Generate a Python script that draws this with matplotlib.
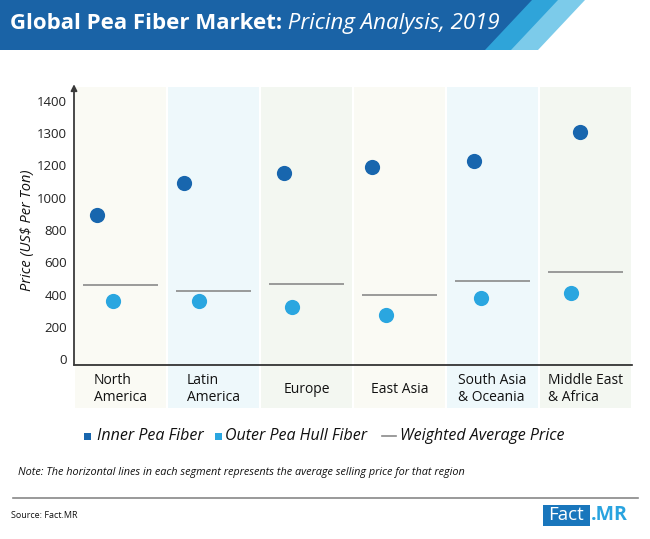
import matplotlib
matplotlib.use("Agg")
import matplotlib.pyplot as plt
import numpy as np
from matplotlib.patches import Polygon, Rectangle
from matplotlib.lines import Line2D

plt.rcParams["font.family"] = ["Open Sans", "DejaVu Sans"]

regions = ["North\nAmerica", "Latin\nAmerica", "Europe", "East Asia",
           "South Asia\n& Oceania", "Middle East\n& Africa"]
inner = [892, 1094, 1152, 1192, 1214, 1305]
outer = [361, 361, 324, 274, 378, 408]
avg_price = [462, 421, 464, 398, 487, 539]
yticks = [0, 200, 400, 600, 800, 1000, 1200, 1300, 1400]

# small horizontal shifts of the dots inside each segment
inner_dx = [-0.25, -0.32, -0.24, -0.30, -0.20, -0.06]
outer_dx = [-0.08, -0.16, -0.16, -0.15, -0.12, -0.16]

band_colors = ["#fafaf4", "#eef8fb", "#f3f7f1"] * 2
C_INNER = "#1866ae"
C_OUTER = "#2aa6e0"

# the value axis is not linear: equal steps for 0..1200 by 200, then by 100
brk_v = [-1000, 0, 200, 400, 600, 800, 1000, 1200, 1300, 1400, 2400]
brk_p = [-5, 0, 1, 2, 3, 4, 5, 6, 7, 8, 18]


def fwd(v):
    return np.interp(v, brk_v, brk_p)


def inv(p):
    return np.interp(p, brk_p, brk_v)


W, H = 650, 539
fig = plt.figure(figsize=(W / 100, H / 100), dpi=100)


def box(l, t, r, b):
    return [l / W, 1 - b / H, (r - l) / W, (b - t) / H]


x = np.arange(len(regions))

ax = fig.add_axes(box(74, 87, 632, 365))
ax.set_yscale("function", functions=(fwd, inv))
for i, c in enumerate(band_colors):
    ax.axvspan(i - 0.49, i + 0.49, color=c, lw=0, zorder=0)
ax.hlines(avg_price, x - 0.4, x + 0.4, color="#8a8a8a", lw=1.2, zorder=2)
ax.scatter(x + np.array(inner_dx), inner, s=120, color=C_INNER, zorder=3,
           linewidths=0)
ax.scatter(x + np.array(outer_dx), outer, s=120, color=C_OUTER, zorder=3,
           linewidths=0)
ax.set_xlim(-0.5, 5.5)
ax.set_ylim(-36, 1443)
ax.set_yticks(yticks)
ax.set_yticklabels([str(v) for v in yticks])
ax.yaxis.set_minor_locator(matplotlib.ticker.NullLocator())
ax.tick_params(axis="y", length=0, pad=5, labelsize=9.5, labelcolor="#222222")
ax.set_xticks([])
for s in ("top", "right", "left"):
    ax.spines[s].set_visible(False)
ax.spines["bottom"].set_color("#222222")
ax.spines["bottom"].set_linewidth(1.2)
ax.annotate("", xy=(0, 1.01), xytext=(0, 0), xycoords="axes fraction",
            arrowprops=dict(arrowstyle="-|>", color="#3a3a3a", lw=1.3,
                            mutation_scale=9, shrinkA=0, shrinkB=0))

# strip with region names under the axis
lab = fig.add_axes(box(74, 366, 632, 408))
for i, c in enumerate(band_colors):
    lab.axvspan(i - 0.49, i + 0.49, color=c, lw=0)
    lab.text(i, 0.45, regions[i], ha="center", va="center", ma="left",
             fontsize=10, color="#111111", linespacing=1.15)
lab.set_xlim(-0.5, 5.5)
lab.set_ylim(0, 1)
lab.axis("off")

fig.text(27 / W, 1 - 230 / H, "Price (US$ Per Ton)", rotation=90,
         ha="center", va="center", fontsize=10.5, style="italic",
         color="#111111")

# overlay in pixel coordinates for header, legend and footer
ov = fig.add_axes([0, 0, 1, 1], zorder=-1)
ov.set_xlim(0, W)
ov.set_ylim(H, 0)
ov.axis("off")
ov.add_patch(Polygon([(450, 0), (585, 0), (538, 50), (450, 50)],
                     color="#7ccbea", lw=0))
ov.add_patch(Polygon([(450, 0), (558, 0), (511, 50), (450, 50)],
                     color="#2fa4d9", lw=0))
ov.add_patch(Polygon([(0, 0), (532, 0), (485, 50), (0, 50)],
                     color="#1a63a6", lw=0))

title = ov.text(10, 29, "Global Pea Fiber Market:", fontsize=16,
                fontweight="bold", color="white", va="baseline")
ov.annotate(" Pricing Analysis, 2019", xy=(1, 0), xycoords=title,
            va="bottom", fontsize=16, style="italic", color="white")

# legend
ov.add_patch(Rectangle((83.5, 432.5), 7, 7, color=C_INNER, lw=0))
ov.text(97, 436, "Inner Pea Fiber", fontsize=11.5, style="italic",
        va="center", color="#111111")
ov.add_patch(Rectangle((214.5, 432.5), 7, 7, color=C_OUTER, lw=0))
ov.text(225, 436, "Outer Pea Hull Fiber", fontsize=11.5, style="italic",
        va="center", color="#111111")
ov.add_line(Line2D([382, 396], [436, 436], color="#8a8a8a", lw=1.2))
ov.text(400, 436, "Weighted Average Price", fontsize=11.5, style="italic",
        va="center", color="#111111")

ov.text(18, 473, "Note: The horizontal lines in each segment represents the "
        "average selling price for that region", fontsize=7.8,
        style="italic", va="center", color="#111111")
ov.add_line(Line2D([13, 638], [498, 498], color="#888888", lw=1.2))
ov.text(11, 516, "Source: Fact.MR", fontsize=6.5, va="center",
        color="#111111")

ov.add_patch(Rectangle((543, 505), 47, 21, color="#1976bc", lw=0))
ov.text(566.5, 515.5, "Fact", fontsize=13.5, color="white", ha="center",
        va="center")
ov.text(591, 515.5, ".MR", fontsize=14, fontweight="bold", color="#29a3df",
        ha="left", va="center")

fig.savefig("out.png", dpi=100)
